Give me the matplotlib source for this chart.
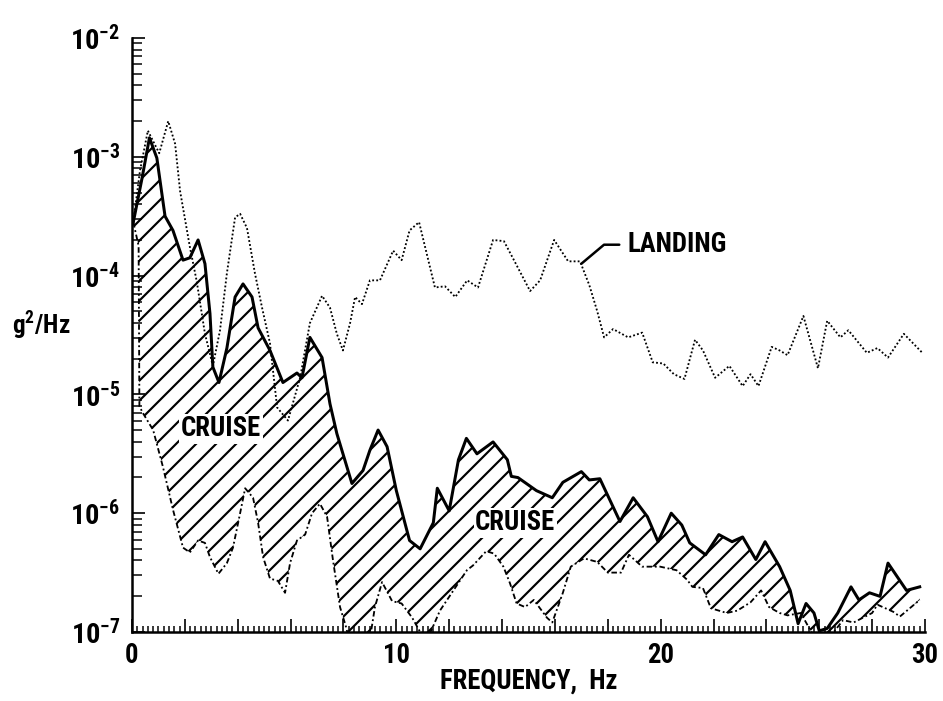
import numpy as np
import matplotlib
matplotlib.use("Agg")
import matplotlib.pyplot as plt
from matplotlib import font_manager as fm
from matplotlib.ticker import MultipleLocator, FuncFormatter, LogLocator, NullFormatter

# ---------------------------------------------------------------------------
# values (frequency in Hz, PSD as log10 of g^2/Hz)
# ---------------------------------------------------------------------------
cruise_hi_f = [0.05, 0.38, 0.66, 0.94, 1.25, 1.55, 1.93, 2.19, 2.5, 2.76, 2.95,
               3.06, 3.29, 3.59, 3.9, 4.2, 4.54, 4.77, 5.22, 5.71, 6.24, 6.43,
               6.73, 7.19, 7.49, 7.75, 8.32, 8.74, 9.0, 9.31, 9.65, 10.0, 10.5,
               10.9, 11.4, 11.55, 12.0, 12.35, 12.65, 13.05, 13.66, 14.2, 14.35,
               14.6, 15.3, 15.9, 16.3, 17.0, 17.3, 17.7, 18.46, 18.96, 19.5,
               19.9, 20.4, 20.8, 21.1, 21.7, 22.2, 22.7, 23.1, 23.6, 23.95,
               24.5, 24.9, 25.2, 25.5, 25.8, 26.0, 26.3, 26.7, 27.2, 27.5,
               27.9, 28.3, 28.6, 29.3, 29.8]
cruise_hi_log = [-3.55, -3.18, -2.84, -3.01, -3.50, -3.62, -3.87, -3.85, -3.70,
                 -3.90, -4.32, -4.77, -4.90, -4.61, -4.18, -4.07, -4.18, -4.44,
                 -4.63, -4.90, -4.82, -4.86, -4.52, -4.69, -5.08, -5.33, -5.75,
                 -5.64, -5.47, -5.30, -5.44, -5.81, -6.23, -6.30, -6.08, -5.79,
                 -5.98, -5.55, -5.37, -5.50, -5.40, -5.55, -5.69, -5.70, -5.81,
                 -5.87, -5.74, -5.65, -5.72, -5.71, -6.07, -5.87, -6.03, -6.24,
                 -6.00, -6.10, -6.25, -6.35, -6.18, -6.24, -6.20, -6.39, -6.24,
                 -6.45, -6.65, -6.93, -6.76, -6.84, -6.99, -6.97, -6.84, -6.62,
                 -6.73, -6.67, -6.70, -6.42, -6.65, -6.62]

cruise_lo_f = [0.05, 0.25, 0.28, 0.42, 0.8, 1.17, 1.55, 1.93, 2.19, 2.5, 2.76,
               2.95, 3.27, 3.59, 3.82, 4.09, 4.28, 4.58, 4.77, 4.96, 5.22, 5.52,
               5.79, 5.98, 6.24, 6.55, 6.81, 7.11, 7.38, 7.6, 7.87, 8.1, 8.3,
               8.9, 9.19, 9.46, 9.84, 10.2, 10.6, 10.9, 11.2, 11.65, 12.4, 12.67,
               12.9, 13.4, 13.7, 14.05, 14.3, 14.55, 14.87, 15.2, 15.7, 15.9,
               16.3, 16.6, 17.1, 17.6, 18.0, 18.5, 18.8, 19.3, 19.98, 20.6,
               21.0, 21.2, 21.6, 21.9, 22.5, 22.9, 23.4, 23.8, 24.1, 24.5, 24.8,
               25.3, 25.5, 25.7, 26.2, 26.9, 27.3, 28.0, 28.2, 28.8, 29.05, 29.8]
cruise_lo_log = [-3.55, -3.75, -5.10, -5.16, -5.30, -5.61, -5.97, -6.29, -6.33,
                 -6.23, -6.25, -6.37, -6.51, -6.42, -6.29, -6.00, -5.79, -5.87,
                 -6.08, -6.37, -6.55, -6.57, -6.67, -6.42, -6.23, -6.18, -6.00,
                 -5.92, -6.03, -6.39, -6.79, -6.96, -7.15, -7.20, -6.79, -6.58,
                 -6.74, -6.76, -6.88, -7.00, -7.05, -6.82, -6.57, -6.48, -6.44,
                 -6.32, -6.34, -6.45, -6.59, -6.76, -6.79, -6.73, -6.88, -6.92,
                 -6.67, -6.45, -6.38, -6.41, -6.50, -6.50, -6.35, -6.45, -6.45,
                 -6.48, -6.56, -6.62, -6.63, -6.80, -6.84, -6.82, -6.75, -6.65,
                 -6.79, -6.84, -6.86, -6.84, -6.92, -7.00, -7.10, -6.90, -6.92,
                 -6.84, -6.77, -6.83, -6.87, -6.73]

landing_f = [0.05, 0.3, 0.6, 1.03, 1.37, 1.63, 1.82, 2.19, 2.45, 2.76, 3.06,
             3.33, 3.59, 3.9, 4.09, 4.35, 4.65, 4.92, 5.22, 5.49, 5.9, 6.36,
             6.73, 7.19, 7.49, 7.75, 7.98, 8.25, 8.44, 8.7, 9.0, 9.38, 9.88,
             10.2, 10.5, 10.86, 11.46, 11.84, 12.23, 12.68, 13.09, 13.66, 14.07,
             14.45, 15.06, 15.44, 15.97, 16.5, 16.95, 17.3, 17.6, 17.86, 18.2,
             18.77, 19.3, 19.7, 20.1, 20.5, 20.9, 21.3, 21.6, 22.06, 22.6,
             23.1, 23.4, 23.7, 24.2, 24.5, 24.8, 25.4, 25.95, 26.3, 26.8, 27.1,
             27.8, 28.2, 28.6, 29.2, 29.9]
landing_log = [-3.55, -3.12, -2.78, -2.97, -2.70, -2.89, -3.29, -3.76, -4.05,
               -4.49, -4.76, -4.46, -3.98, -3.51, -3.48, -3.60, -3.98, -4.27,
               -4.57, -5.11, -5.22, -4.86, -4.40, -4.17, -4.27, -4.49, -4.63,
               -4.40, -4.18, -4.24, -4.04, -4.04, -3.79, -3.87, -3.62, -3.55,
               -4.10, -4.09, -4.18, -4.04, -4.10, -3.70, -3.71, -3.87, -4.13,
               -4.04, -3.70, -3.88, -3.88, -4.08, -4.30, -4.52, -4.45, -4.52,
               -4.48, -4.73, -4.74, -4.83, -4.87, -4.54, -4.63, -4.86, -4.76,
               -4.93, -4.83, -4.93, -4.60, -4.63, -4.67, -4.34, -4.78, -4.38,
               -4.52, -4.46, -4.65, -4.61, -4.69, -4.49, -4.65]

x_ticklabels = {0: "0", 10: "10", 20: "20", 30: "30"}
# ---------------------------------------------------------------------------


def pick_condensed():
    """Find a narrow bold face among the installed fonts (name, stretch)."""
    names = {f.name for f in fm.fontManager.ttflist}
    for cand in ("Liberation Sans Narrow", "DejaVu Sans Condensed",
                 "Roboto Condensed", "Open Sans Condensed", "Noto Sans Condensed"):
        if cand in names:
            return cand, "normal"
    for f in fm.fontManager.ttflist:
        fn = f.fname.lower()
        if ("condensed" in fn or "narrow" in fn) and "semi" not in fn \
                and "extra" not in fn and "bold" in fn and "mono" not in fn:
            return f.name, "condensed"
    return "DejaVu Sans", "normal"


FAMILY, STRETCH = pick_condensed()
plt.rcParams["font.family"] = [FAMILY, "DejaVu Sans"]
plt.rcParams["font.stretch"] = STRETCH
plt.rcParams["font.weight"] = "bold"
plt.rcParams["mathtext.fontset"] = "custom"
plt.rcParams["mathtext.rm"] = f"{FAMILY}:weight=bold:stretch={STRETCH}"
plt.rcParams["mathtext.bf"] = f"{FAMILY}:weight=bold:stretch={STRETCH}"
plt.rcParams["mathtext.default"] = "rm"
plt.rcParams["hatch.linewidth"] = 1.3

DPI = 120
fig = plt.figure(figsize=(943 / DPI, 701 / DPI), dpi=DPI)
ax = fig.add_axes([132 / 943, 1 - 632 / 701, 793 / 943, 594 / 701])

f_hi = np.array(cruise_hi_f)
f_lo = np.array(cruise_lo_f)
p_hi = 10.0 ** np.array(cruise_hi_log)
p_lo = 10.0 ** np.array(cruise_lo_log)
p_ld = 10.0 ** np.array(landing_log)

# hatched cruise envelope
ax.fill(np.r_[f_hi, f_lo[::-1]], np.r_[p_hi, p_lo[::-1]],
        facecolor="none", edgecolor="black", hatch="//", linewidth=0, zorder=1)

ax.plot(landing_f, p_ld, color="black", lw=1.1, ls=(0, (1, 1.2)), zorder=2)
ax.plot(f_lo, p_lo, color="black", lw=1.1, ls=(0, (3, 1.5, 1, 1.5)), zorder=3)
ax.plot(f_hi, p_hi, color="black", lw=1.8, zorder=4)

ax.set_yscale("log")
ax.set_xlim(0, 30)
ax.set_ylim(1e-7, 1e-2)

for s in ("top", "right"):
    ax.spines[s].set_visible(False)
for s in ("left", "bottom"):
    ax.spines[s].set_linewidth(1.5)

ax.xaxis.set_major_locator(MultipleLocator(2))
ax.xaxis.set_minor_locator(MultipleLocator(0.2))
ax.xaxis.set_major_formatter(FuncFormatter(lambda v, p: x_ticklabels.get(int(round(v)), "")))
ax.yaxis.set_major_locator(LogLocator(base=10, numticks=10))
ax.yaxis.set_minor_locator(LogLocator(base=10, subs=np.arange(2, 10), numticks=20))
ax.yaxis.set_minor_formatter(NullFormatter())
ax.yaxis.set_major_formatter(FuncFormatter(lambda v, p: r"$10^{%d}$" % int(round(np.log10(v)))))

ax.tick_params(axis="x", which="major", direction="in", length=8, width=1.0,
               labelsize=16, pad=6)
ax.tick_params(axis="x", which="minor", direction="in", length=3.5, width=0.9)
ax.tick_params(axis="y", which="major", direction="in", length=7.5, width=1.0,
               labelsize=17, pad=7)
ax.tick_params(axis="y", which="minor", direction="in", length=6, width=0.9)

ax.set_xlabel("FREQUENCY,  Hz", fontsize=16, fontweight="bold", labelpad=-1)
ax.set_ylabel(r"g$^2$/Hz", fontsize=15, fontweight="bold", rotation=0,
              ha="center", va="center")
ax.yaxis.set_label_coords(-0.115, 0.517)

box = dict(facecolor="white", edgecolor="none", pad=1.0)
ax.text(3.37, 10 ** -5.29, "CRUISE", fontsize=16, fontweight="bold",
        ha="center", va="center", bbox=box, zorder=5)
ax.text(14.5, 10 ** -6.08, "CRUISE", fontsize=16, fontweight="bold",
        ha="center", va="center", bbox=box, zorder=5)

ax.annotate("LANDING", xy=(17.0, 10 ** -3.90), xytext=(18.75, 10 ** -3.74),
            fontsize=16, fontweight="bold", ha="left", va="center",
            arrowprops=dict(arrowstyle="-", lw=1.5, color="black",
                            connectionstyle="angle,angleA=0,angleB=40,rad=0",
                            relpos=(0, 0.5), shrinkA=3, shrinkB=0))

fig.savefig("out.png", dpi=DPI)
